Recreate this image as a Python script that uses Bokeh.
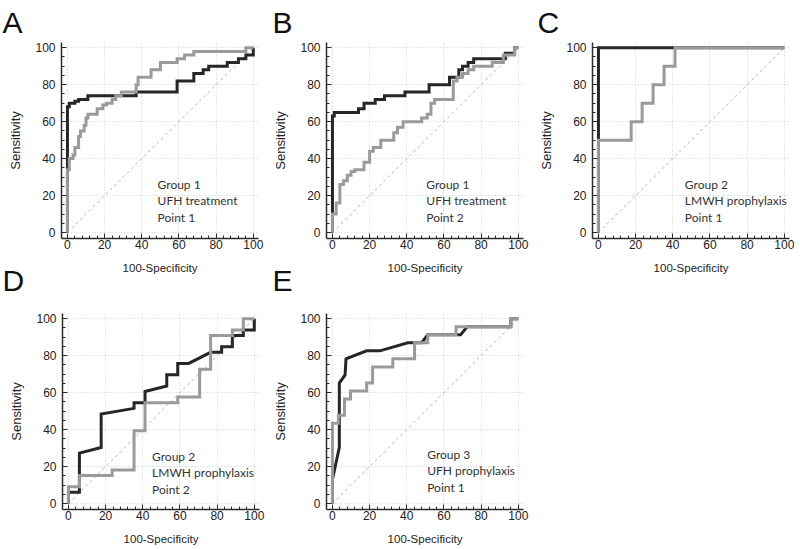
from bokeh.plotting import figure
from bokeh.layouts import column, row
from bokeh.models import Label, Range1d, SingleIntervalTicker
from bokeh.embed import file_html
from bokeh.resources import INLINE

# ---------------- data ----------------
x_label = "100-Specificity"
y_label = "Sensitivity"
diag = [0, 100]

# Panel A  (Group 1, UFH treatment, Point 1)
a_dark_x = [0, 0, 1, 1, 4, 4, 6, 6, 11, 11, 37, 37, 59, 59, 68, 68, 73, 73, 76, 76, 86, 86, 92, 92, 96, 96, 100, 100]
a_dark_y = [0, 68, 68, 70, 70, 71, 71, 72, 72, 74, 74, 76, 76, 82, 82, 86, 86, 88, 88, 90, 90, 92, 92, 94, 94, 96, 96, 100]
a_gray_x = [0, 0, 1, 1, 3, 3, 4, 4, 6, 6, 7, 7, 9, 9, 10, 10, 11, 11, 16, 16, 19, 19, 21, 21, 24, 24, 26, 26, 29, 29, 37, 37, 38, 38, 45, 45, 50, 50, 59, 59, 63, 63, 68, 68, 96, 96, 100]
a_gray_y = [0, 34, 34, 40, 40, 42, 42, 46, 46, 52, 52, 55, 55, 58, 58, 62, 62, 64, 64, 67, 67, 69, 69, 70, 70, 72, 72, 74, 74, 76, 76, 80, 80, 84, 84, 88, 88, 92, 92, 94, 94, 96, 96, 98, 98, 100, 100]
a_text = ["Group 1", "UFH treatment", "Point 1"]

# Panel B  (Group 1, UFH treatment, Point 2)
b_dark_x = [0, 0, 1, 1, 14, 14, 17, 17, 23, 23, 28, 28, 39, 39, 52, 52, 63, 63, 68, 68, 70, 70, 73, 73, 76, 76, 93, 93, 98, 98, 100]
b_dark_y = [0, 63, 63, 65, 65, 67, 67, 70, 70, 72, 72, 74, 74, 76, 76, 80, 80, 84, 84, 88, 88, 90, 90, 92, 92, 94, 94, 97, 97, 100, 100]
b_gray_x = [0, 0, 2, 2, 4, 4, 6, 6, 8, 8, 10, 10, 12, 12, 17, 17, 20, 20, 22, 22, 26, 26, 33, 33, 35, 35, 38, 38, 48, 48, 51, 51, 53, 53, 55, 55, 65, 65, 67, 67, 70, 70, 73, 73, 76, 76, 86, 86, 92, 92, 98, 98, 100]
b_gray_y = [0, 10, 10, 16, 16, 26, 26, 28, 28, 31, 31, 33, 33, 34, 34, 38, 38, 44, 44, 46, 46, 50, 50, 54, 54, 57, 57, 60, 60, 62, 62, 64, 64, 70, 70, 72, 72, 82, 82, 84, 84, 86, 86, 88, 88, 90, 90, 92, 92, 96, 96, 100, 100]
b_text = ["Group 1", "UFH treatment", "Point 2"]

# Panel C  (Group 2, LMWH prophylaxis, Point 1)
c_dark_x = [0, 0, 100]
c_dark_y = [0, 100, 100]
c_gray_x = [0, 0, 17.6, 17.6, 23.5, 23.5, 29.4, 29.4, 35.3, 35.3, 41.2, 41.2, 100]
c_gray_y = [0, 50, 50, 60, 60, 70, 70, 80, 80, 90, 90, 100, 100]
c_text = ["Group 2", "LMWH prophylaxis", "Point 1"]

# Panel D  (Group 2, LMWH prophylaxis, Point 2)
d_dark_x = [0, 0, 5.9, 5.9, 17.6, 17.6, 35.3, 35.3, 41.2, 41.2, 52.9, 52.9, 58.8, 58.8, 64.7, 76.5, 82.4, 82.4, 88.2, 88.2, 94.1, 94.1, 100, 100]
d_dark_y = [0, 6.1, 6.1, 27.3, 30.3, 48.5, 51.5, 54.5, 54.5, 60.6, 63.6, 69.7, 69.7, 75.8, 75.8, 81.8, 81.8, 84.8, 84.8, 90.9, 90.9, 93.9, 93.9, 100]
d_gray_x = [0, 0, 5.9, 5.9, 23.5, 23.5, 35.3, 35.3, 41.2, 41.2, 58.8, 58.8, 70.6, 70.6, 76.5, 76.5, 88.2, 88.2, 94.1, 94.1, 100]
d_gray_y = [0, 9.1, 9.1, 15.2, 15.2, 18.2, 18.2, 39.4, 39.4, 54.5, 54.5, 57.6, 57.6, 72.7, 72.7, 90.9, 90.9, 93.9, 93.9, 100, 100]
d_text = ["Group 2", "LMWH prophylaxis", "Point 2"]

# Panel E  (Group 3, UFH prophylaxis, Point 1)
e_dark_x = [0, 0, 3.7, 3.7, 6.8, 7.3, 18.4, 25.5, 40.6, 48, 51.3, 69, 72.5, 96, 96, 100]
e_dark_y = [0, 13, 30.4, 65.2, 69.6, 78.3, 82.6, 82.6, 87, 87, 91.3, 91.3, 95.7, 95.7, 100, 100]
e_gray_x = [0, 0, 3.2, 3.2, 6.5, 6.5, 9.7, 9.7, 18.4, 18.4, 21.6, 21.6, 32.5, 32.5, 44.2, 44.2, 51.3, 51.3, 66.5, 66.5, 95.9, 95.9, 100]
e_gray_y = [0, 43.5, 43.5, 47.8, 47.8, 56.5, 56.5, 60.9, 60.9, 65.2, 65.2, 73.9, 73.9, 78.3, 78.3, 87, 87, 91.3, 91.3, 95.7, 95.7, 100, 100]
e_text = ["Group 3", "UFH prophylaxis", "Point 1"]

DARK = "#262626"
GRAY = "#9a9a9a"
TICK_FONT = "Liberation Sans"
NOTE_FONT = "Lato"


def panel(letter, dark_x, dark_y, gray_x, gray_y, note, note_x, note_y,
          bl, br, bt, bb, letter_offset, letter_standoff, fill):
    p = figure(frame_width=197, frame_height=196, output_backend="svg", toolbar_location=None,
               x_range=Range1d(-3.2, 102.8), y_range=Range1d(-3.2, 102.8),
               min_border_left=bl, min_border_right=br, min_border_top=bt, min_border_bottom=bb)
    p.outline_line_color = None
    p.background_fill_color = "white"
    p.border_fill_color = fill

    p.title.text = letter
    p.title.text_font = TICK_FONT
    p.title.text_font_size = "30px"
    p.title.text_font_style = "normal"
    p.title.text_color = "#111111"
    p.title.align = "left"
    p.title.vertical_align = "bottom"
    p.title.offset = letter_offset
    p.title.standoff = letter_standoff

    p.xaxis.ticker = SingleIntervalTicker(interval=20, num_minor_ticks=5)
    p.yaxis.ticker = SingleIntervalTicker(interval=20, num_minor_ticks=4)
    for ax in (p.xaxis[0], p.yaxis[0]):
        ax.axis_line_color = "#2b2b2b"
        ax.axis_line_width = 1.5
        ax.major_tick_in = 5
        ax.major_tick_out = 0
        ax.minor_tick_in = 3
        ax.minor_tick_out = 0
        ax.major_tick_line_color = "#2b2b2b"
        ax.minor_tick_line_color = "#2b2b2b"
        ax.major_label_text_font = TICK_FONT
        ax.major_label_text_font_size = "12px"
        ax.major_label_text_color = "#222222"
        ax.axis_label_text_font = TICK_FONT
        ax.axis_label_text_font_style = "normal"
        ax.axis_label_text_color = "#222222"
    p.xaxis.axis_label = x_label
    p.yaxis.axis_label = y_label
    p.xaxis.axis_label_text_font_size = "11.5px"
    p.yaxis.axis_label_text_font_size = "13px"
    p.xaxis.major_label_standoff = 1
    p.yaxis.major_label_standoff = 6
    p.xaxis.axis_label_standoff = 10
    p.yaxis.axis_label_standoff = 9

    for g in (p.xgrid[0], p.ygrid[0]):
        g.grid_line_color = "#cfcfcf"
        g.grid_line_dash = "1 2"
        g.grid_line_width = 1

    p.line(diag, diag, line_color="#b4b4b4", line_width=1, line_dash="3 3")
    p.line(dark_x, dark_y, line_color=DARK, line_width=3, line_join="miter")
    p.line(gray_x, gray_y, line_color=GRAY, line_width=3, line_join="miter")

    for i, t in enumerate(note):
        p.add_layout(Label(x=note_x, y=note_y, y_offset=-16.3 * i, text=t,
                           text_font=NOTE_FONT, text_font_size="12px",
                           text_color="#333333", text_baseline="alphabetic"))
    return p


pa = panel("A", a_dark_x, a_dark_y, a_gray_x, a_gray_y, a_text, 48.5, 26,
           61, 12, 41, 41, -59, 7.4, "white")
pb = panel("B", b_dark_x, b_dark_y, b_gray_x, b_gray_y, b_text, 50.5, 26,
           56, 13, 41, 41, -54, 7.4, "white")
pc = panel("C", c_dark_x, c_dark_y, c_gray_x, c_gray_y, c_text, 46.5, 26,
           56, 11, 41, 41, -55, 7.4, "white")
pd = panel("D", d_dark_x, d_dark_y, d_gray_x, d_gray_y, d_text, 45, 25.5,
           62, 11, 67, 42, -60, 33, None)
pe = panel("E", e_dark_x, e_dark_y, e_gray_x, e_gray_y, e_text, 51, 26.5,
           56, 13, 67, 42, -54, 33, None)

top_row = row(pa, pb, pc)
bottom_row = row(pd, pe, margin=(-34, 0, 0, 0))
layout = column(top_row, bottom_row)
open("out.html", "w").write(file_html(layout, INLINE))
